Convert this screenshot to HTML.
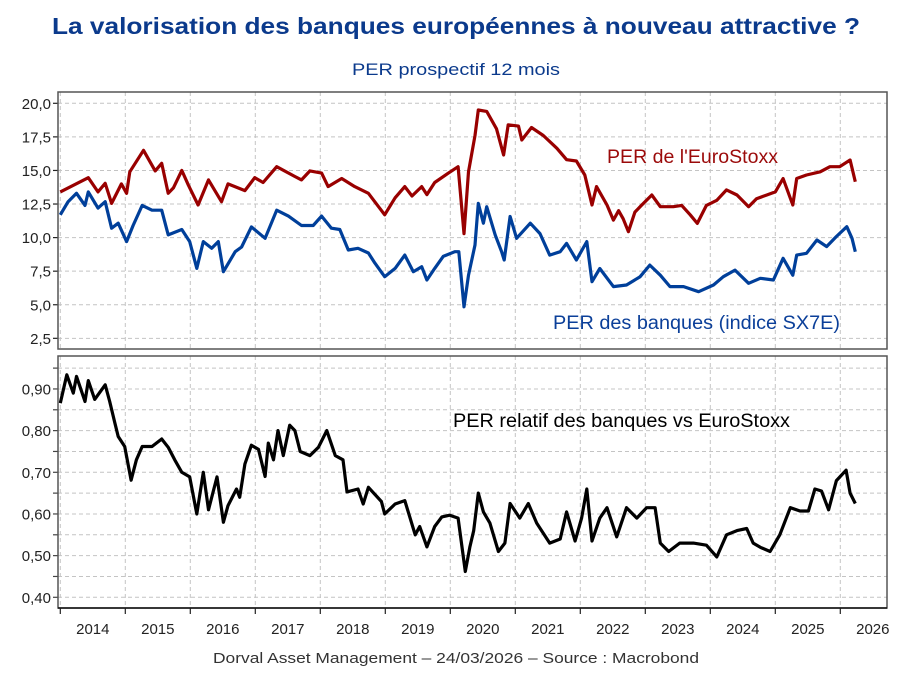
<!DOCTYPE html>
<html><head><meta charset="utf-8"><style>
html,body{margin:0;padding:0;background:#fff;}
svg{display:block;font-family:"Liberation Sans",sans-serif;}
</style></head><body>
<svg id="chart" width="905" height="685" viewBox="0 0 905 685" xmlns="http://www.w3.org/2000/svg">
<text x="456" y="34" text-anchor="middle" font-size="23" font-weight="bold" fill="#0b3a8c" textLength="808" lengthAdjust="spacingAndGlyphs">La valorisation des banques européennes à nouveau attractive ?</text>
<text x="456" y="75" text-anchor="middle" font-size="17" fill="#0b3a8c" textLength="208" lengthAdjust="spacingAndGlyphs">PER prospectif 12 mois</text>
<g id="grid"></g>
<g id="series"></g>
<g id="axes"></g>
<text x="607" y="163" font-size="19" fill="#9b0a0a" textLength="171" lengthAdjust="spacingAndGlyphs">PER de l'EuroStoxx</text>
<text x="553" y="329" font-size="19" fill="#0b3f99" textLength="287" lengthAdjust="spacingAndGlyphs">PER des banques (indice SX7E)</text>
<text x="453" y="427" font-size="19" fill="#000" textLength="337" lengthAdjust="spacingAndGlyphs">PER relatif des banques vs EuroStoxx</text>
<text x="456" y="663" text-anchor="middle" font-size="15" fill="#333" textLength="486" lengthAdjust="spacingAndGlyphs">Dorval Asset Management – 24/03/2026 –    Source : Macrobond</text>
</svg>
<script>
const years = [2014,2015,2016,2017,2018,2019,2020,2021,2022,2023,2024,2025,2026];
const topTicks = [2.5,5,7.5,10,12.5,15,17.5,20];
const topTickLabels = ["2,5","5,0","7,5","10,0","12,5","15,0","17,5","20,0"];
const botTicks = [0.4,0.5,0.6,0.7,0.8,0.9];
const botTickLabels = ["0,40","0,50","0,60","0,70","0,80","0,90"];

const esDates = [2014.00,2014.43,2014.58,2014.69,2014.79,2014.94,2015.02,2015.07,2015.28,2015.46,2015.56,2015.66,2015.74,2015.87,2015.97,2016.12,2016.28,2016.48,2016.58,2016.84,2016.99,2017.12,2017.33,2017.61,2017.71,2017.84,2018.02,2018.12,2018.33,2018.53,2018.74,2018.99,2019.15,2019.30,2019.41,2019.56,2019.64,2019.76,2019.97,2020.12,2020.21,2020.28,2020.38,2020.43,2020.56,2020.71,2020.82,2020.89,2021.05,2021.10,2021.25,2021.43,2021.64,2021.79,2021.94,2022.07,2022.18,2022.25,2022.41,2022.51,2022.59,2022.66,2022.74,2022.84,2022.94,2023.10,2023.23,2023.43,2023.56,2023.69,2023.80,2023.94,2024.10,2024.25,2024.41,2024.59,2024.71,2024.87,2025.00,2025.12,2025.27,2025.33,2025.48,2025.69,2025.84,2025.99,2026.15,2026.23];
const esValues = [13.4,14.46,13.4,14.04,12.55,14.0,13.3,14.9,16.5,14.97,15.53,13.3,13.7,15.0,13.9,12.43,14.3,12.67,14.0,13.5,14.46,14.1,15.28,14.55,14.3,14.97,14.8,13.8,14.4,13.8,13.3,11.7,12.96,13.8,13.1,13.8,13.2,14.1,14.8,15.28,10.3,14.9,17.6,19.5,19.4,18.1,16.15,18.4,18.3,17.27,18.2,17.6,16.65,15.8,15.7,14.66,12.43,13.8,12.43,11.3,12.0,11.4,10.44,11.9,12.4,13.17,12.3,12.3,12.4,11.7,11.06,12.4,12.78,13.55,13.17,12.3,12.9,13.17,13.4,14.4,12.43,14.4,14.66,14.9,15.28,15.28,15.78,14.16];

const bkDates = [2014.00,2014.12,2014.25,2014.38,2014.43,2014.58,2014.69,2014.79,2014.89,2015.02,2015.12,2015.26,2015.41,2015.56,2015.66,2015.87,2015.99,2016.10,2016.20,2016.33,2016.43,2016.51,2016.69,2016.79,2016.94,2017.15,2017.33,2017.51,2017.71,2017.89,2018.02,2018.17,2018.30,2018.43,2018.58,2018.74,2018.84,2018.99,2019.15,2019.30,2019.43,2019.56,2019.64,2019.76,2019.89,2020.07,2020.13,2020.21,2020.28,2020.38,2020.43,2020.51,2020.56,2020.69,2020.79,2020.83,2020.92,2021.02,2021.23,2021.38,2021.53,2021.69,2021.79,2021.94,2022.10,2022.18,2022.30,2022.51,2022.71,2022.92,2023.07,2023.23,2023.38,2023.59,2023.82,2024.05,2024.20,2024.38,2024.59,2024.77,2024.97,2025.12,2025.27,2025.33,2025.48,2025.64,2025.79,2025.94,2026.10,2026.18,2026.23];
const bkValues = [11.7,12.67,13.3,12.4,13.4,12.2,12.67,10.7,11.07,9.7,10.9,12.4,12.04,12.04,10.2,10.6,9.7,7.71,9.7,9.2,9.7,7.46,8.95,9.3,10.8,9.95,12.04,11.6,10.9,10.9,11.6,10.7,10.6,9.08,9.2,8.85,8.1,7.09,7.71,8.7,7.46,7.83,6.84,7.71,8.6,8.95,8.95,4.85,7.2,9.45,12.55,11.07,12.3,10.2,8.95,8.33,11.57,9.95,11.07,10.3,8.7,8.95,9.57,8.33,9.7,6.72,7.7,6.35,6.47,7.09,7.95,7.2,6.35,6.35,5.97,6.47,7.09,7.58,6.6,6.97,6.84,8.46,7.2,8.7,8.83,9.82,9.33,10.08,10.81,9.95,8.95];

const relDates = [2014.00,2014.10,2014.20,2014.25,2014.38,2014.43,2014.53,2014.69,2014.76,2014.84,2014.89,2014.99,2015.09,2015.17,2015.26,2015.41,2015.56,2015.66,2015.76,2015.87,2015.99,2016.10,2016.20,2016.28,2016.41,2016.51,2016.58,2016.71,2016.76,2016.84,2016.94,2017.05,2017.15,2017.20,2017.28,2017.35,2017.43,2017.53,2017.61,2017.69,2017.84,2017.97,2018.10,2018.23,2018.35,2018.41,2018.58,2018.66,2018.74,2018.94,2018.99,2019.15,2019.30,2019.46,2019.53,2019.64,2019.76,2019.87,2019.99,2020.12,2020.23,2020.30,2020.36,2020.43,2020.51,2020.61,2020.74,2020.84,2020.92,2021.07,2021.20,2021.33,2021.53,2021.69,2021.79,2021.92,2022.02,2022.10,2022.18,2022.30,2022.41,2022.56,2022.71,2022.87,2023.02,2023.15,2023.23,2023.36,2023.53,2023.74,2023.94,2024.10,2024.25,2024.41,2024.56,2024.66,2024.77,2024.92,2025.07,2025.23,2025.38,2025.51,2025.61,2025.71,2025.82,2025.94,2026.09,2026.15,2026.23];
const relValues = [0.866,0.934,0.89,0.93,0.87,0.92,0.875,0.91,0.87,0.818,0.786,0.762,0.681,0.73,0.762,0.762,0.78,0.76,0.73,0.70,0.689,0.60,0.70,0.61,0.689,0.58,0.62,0.66,0.64,0.72,0.765,0.755,0.69,0.77,0.73,0.80,0.74,0.813,0.80,0.75,0.74,0.76,0.80,0.74,0.73,0.653,0.66,0.624,0.664,0.63,0.60,0.624,0.632,0.55,0.57,0.521,0.57,0.593,0.597,0.59,0.462,0.52,0.56,0.65,0.605,0.578,0.51,0.53,0.625,0.59,0.625,0.578,0.53,0.54,0.605,0.535,0.59,0.66,0.535,0.59,0.615,0.545,0.615,0.59,0.615,0.615,0.53,0.51,0.53,0.53,0.525,0.497,0.55,0.56,0.565,0.53,0.52,0.51,0.55,0.615,0.607,0.607,0.66,0.655,0.61,0.68,0.705,0.65,0.625];

const NS = "http://www.w3.org/2000/svg";
const L = 58, R = 887;
const TOP = {y0:92, y1:349}, BOT = {y0:356, y1:608};
function xs(t){ return 60.3 + (t - 2014) * 65.0; }
function yTop(v){ return 103.3 + (20 - v) * 13.43; }
function yBot(v){ return 597.3 - (v - 0.4) * 416.7; }
function mk(tag, attrs, parent){
  const e = document.createElementNS(NS, tag);
  for (const k in attrs) e.setAttribute(k, attrs[k]);
  parent.appendChild(e); return e;
}
const grid = document.getElementById('grid');
const axes = document.getElementById('axes');
const series = document.getElementById('series');
const dash = {stroke:"#c4c4c4","stroke-width":1,"stroke-dasharray":"4,3"};

// vertical grid
years.forEach(function(y){
  const x = xs(y);
  if (x > R) return;
  const g1 = mk('line', Object.assign({x1:x,x2:x,y1:TOP.y0,y2:TOP.y1}, dash), grid);
  
  
  const g2 = mk('line', Object.assign({x1:x,x2:x,y1:BOT.y0,y2:BOT.y1}, dash), grid);
  
  
  const tk = mk('line', {x1:x,x2:x,y1:BOT.y1,y2:BOT.y1+6,stroke:"#222","stroke-width":1.2}, axes);
  
  
  if (xs(y) + 32 < 905) {
    const lb = mk('text', {x:x+32.5,y:634,"text-anchor":"middle","font-size":15,fill:"#222"}, axes);
    
    
    lb.textContent = String(y);
  }
});
// top y grid
topTicks.forEach(function(v, i){
  const y = yTop(v);
  const g = mk('line', Object.assign({x1:L,x2:R,y1:y,y2:y}, dash), grid);
  
  
  const tk = mk('line', {x1:L-5,x2:L,y1:y,y2:y,stroke:"#222","stroke-width":1.2}, axes);
  
  
  const lb = mk('text', {x:L-7,y:y+5.5,"text-anchor":"end","font-size":15,fill:"#222"}, axes);
  
  
  lb.textContent = topTickLabels[i];
});
// bottom y grid incl. minor
botTicks.forEach(function(v, i){
  [v, v + 0.05].forEach(function(w, j){
    const y = yBot(w);
    if (y < BOT.y0) return;
    const g = mk('line', Object.assign({x1:L,x2:R,y1:y,y2:y}, dash), grid);
    
    
    const tk = mk('line', {x1:L-5,x2:L,y1:y,y2:y,stroke:"#444","stroke-width":1.2}, axes);
    
    
  });
  const lb = mk('text', {x:L-7,y:yBot(v)+5.5,"text-anchor":"end","font-size":15,fill:"#222"}, axes);
  
  
  lb.textContent = botTickLabels[i];
});
// frames
const f1 = mk('rect', {x:L,y:TOP.y0,width:R-L,height:TOP.y1-TOP.y0,fill:"none",stroke:"#555","stroke-width":1.5}, axes);


const f2 = mk('rect', {x:L,y:BOT.y0,width:R-L,height:BOT.y1-BOT.y0,fill:"none",stroke:"#555","stroke-width":1.5}, axes);


const xa = mk('line', {x1:L,x2:R,y1:BOT.y1,y2:BOT.y1,stroke:"#111","stroke-width":1.5}, axes);



function line(dates, vals, yf, color, name){
  let d = '';
  dates.forEach(function(t, i){ d += (i ? 'L' : 'M') + xs(t).toFixed(1) + ',' + yf(vals[i]).toFixed(1); });
  const p = mk('path', {d:d,fill:"none",stroke:color,"stroke-width":3.2,"stroke-linejoin":"round"}, series);
  
  
}
line(esDates, esValues, yTop, "#990000", 'line-eurostoxx-per');
line(bkDates, bkValues, yTop, "#003f9a", 'line-banks-per');
line(relDates, relValues, yBot, "#000000", 'line-relative-per');
</script>
</body></html>
